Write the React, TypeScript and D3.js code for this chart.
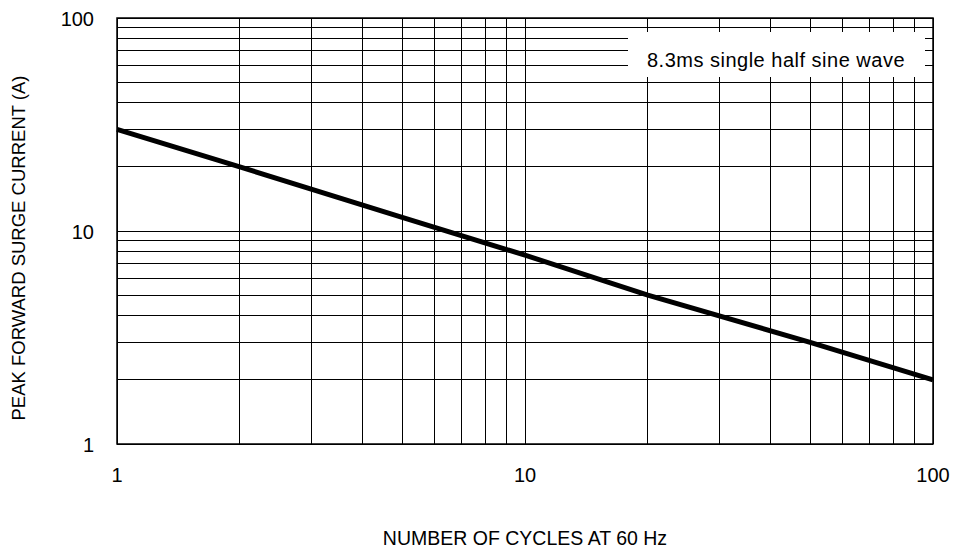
import React from "react";
import * as d3 from "d3";

const cycles = [1, 2, 5, 10, 20, 50, 100];
const surgeCurrent = [30, 20, 11.6, 7.7, 5, 3.0, 2];
const xTickLabels = [1, 10, 100];
const yTickLabels = [1, 10, 100];
const annotation = "8.3ms single half sine wave";
const xTitle = "NUMBER OF CYCLES AT 60 Hz";
const yTitle = "PEAK FORWARD SURGE CURRENT (A)";

const W = 954;
const H = 552;
const M = { left: 117, right: 21, top: 18, bottom: 108 };
const FONT = "'Liberation Sans', Arial, sans-serif";

export default function App() {
  const x = d3.scaleLog().domain([1, 100]).range([M.left, W - M.right]);
  const y = d3.scaleLog().domain([1, 100]).range([H - M.bottom, M.top]);

  const gridVals: number[] = [];
  for (const dec of [1, 10]) for (let k = 1; k <= 9; k++) gridVals.push(dec * k);
  gridVals.push(100);

  const line = d3
    .line<number>()
    .x((_, i) => x(cycles[i]))
    .y((d) => y(d));

  const boxX0 = 628;
  const boxX1 = 925;
  const boxY0 = 32;
  const boxY1 = 77;

  return (
    <svg width={W} height={H} style={{ position: "absolute", left: 0, top: 0, background: "#fff" }}>
      <rect x={0} y={0} width={W} height={H} fill="#fff" />
      <g stroke="#000" strokeWidth={1} shapeRendering="crispEdges">
        {gridVals.map((v) => (
          <line key={"v" + v} x1={x(v)} x2={x(v)} y1={y(1)} y2={y(100)} />
        ))}
        {gridVals.map((v) => (
          <line key={"h" + v} x1={x(1)} x2={x(100)} y1={y(v)} y2={y(v)} />
        ))}
      </g>
      <rect x={boxX0} y={boxY0} width={boxX1 - boxX0} height={boxY1 - boxY0} fill="#fff" />
      <text x={776} y={67} textAnchor="middle" fontFamily={FONT} fontSize={20} letterSpacing={0.5} fill="#000">
        {annotation}
      </text>
      <rect
        x={x(1)}
        y={y(100)}
        width={x(100) - x(1)}
        height={y(1) - y(100)}
        fill="none"
        stroke="#000"
        strokeWidth={1.5}
      />
      <path d={line(surgeCurrent) || ""} fill="none" stroke="#000" strokeWidth={5} strokeLinecap="butt" />
      {yTickLabels.map((v) => (
        <text key={"yl" + v} x={x(1) - 23} y={y(v) + 8} textAnchor="end" fontFamily={FONT} fontSize={20} fill="#000">
          {v}
        </text>
      ))}
      {xTickLabels.map((v) => (
        <text key={"xl" + v} x={x(v)} y={y(1) + 38} textAnchor="middle" fontFamily={FONT} fontSize={20} fill="#000">
          {v}
        </text>
      ))}
      <text x={(x(1) + x(100)) / 2} y={545} textAnchor="middle" fontFamily={FONT} fontSize={19.5} fill="#000">
        {xTitle}
      </text>
      <text
        transform={`translate(25, 248) rotate(-90)`}
        textAnchor="middle"
        fontFamily={FONT}
        fontSize={18.5}
        fill="#000"
      >
        {yTitle}
      </text>
    </svg>
  );
}
